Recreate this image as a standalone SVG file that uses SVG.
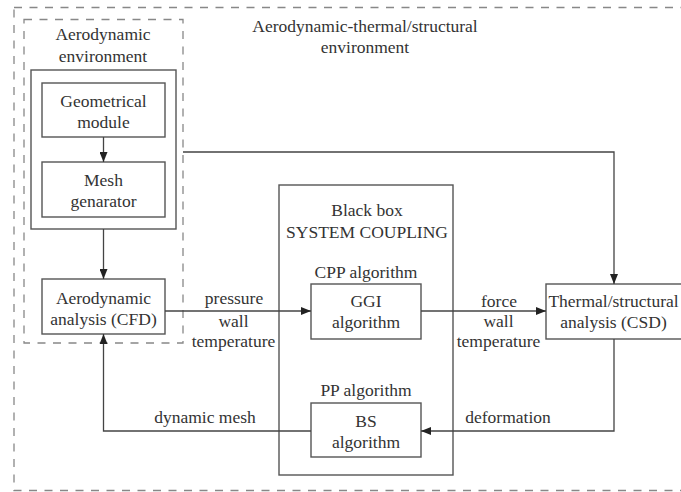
<svg xmlns="http://www.w3.org/2000/svg" width="681" height="492" viewBox="0 0 681 492">
<style>
text{font-family:"Liberation Serif","Times New Roman",serif;font-size:17.5px;fill:#333;text-anchor:middle}
.box{fill:none;stroke:#555;stroke-width:1.4}
.dash{fill:none;stroke:#888;stroke-width:1.3;stroke-dasharray:8 7.5}
.ln{fill:none;stroke:#444;stroke-width:1.3}
</style>
<defs>
<marker id="ar" viewBox="0 0 10 8" refX="10" refY="4" markerWidth="10" markerHeight="8" markerUnits="userSpaceOnUse" orient="auto">
<path d="M0,0 L10,4 L0,8 z" fill="#222"/>
</marker>
</defs>
<g id="outer-env">
<rect class="dash" x="14" y="7.5" width="700" height="483"/>
<text x="365" y="31.5">Aerodynamic-thermal/structural</text>
<text x="365" y="52.5">environment</text>
</g>
<g id="aero-env">
<rect class="dash" x="24" y="19.5" width="159" height="323.5"/>
<text x="103" y="40">Aerodynamic</text>
<text x="103" y="61.5">environment</text>
</g>
<g id="preproc">
<rect class="box" x="31" y="70" width="145" height="159"/>
</g>
<g id="geom">
<rect class="box" x="42" y="83" width="123" height="54"/>
<text x="103.5" y="107">Geometrical</text>
<text x="103.5" y="128">module</text>
</g>
<g id="mesh">
<rect class="box" x="42" y="162" width="123" height="55"/>
<text x="103.5" y="186">Mesh</text>
<text x="103.5" y="207">genarator</text>
</g>
<g id="cfd">
<rect class="box" x="42" y="279" width="123" height="55"/>
<text x="103.5" y="303.5">Aerodynamic</text>
<text x="103.5" y="325">analysis (CFD)</text>
</g>
<g id="blackbox">
<rect class="box" x="279" y="185" width="174" height="290"/>
<text x="367" y="215.5">Black box</text>
<text x="367" y="237.5">SYSTEM COUPLING</text>
<text x="366" y="278.3">CPP algorithm</text>
<text x="366" y="396">PP algorithm</text>
</g>
<g id="ggi">
<rect class="box" x="311" y="284" width="110" height="55"/>
<text x="366" y="307.3">GGI</text>
<text x="366" y="328">algorithm</text>
</g>
<g id="bs">
<rect class="box" x="311" y="403" width="110" height="54"/>
<text x="366" y="427.3">BS</text>
<text x="366" y="447.7">algorithm</text>
</g>
<g id="csd">
<rect class="box" x="546" y="284" width="140" height="55"/>
<text x="613.5" y="306.7">Thermal/structural</text>
<text x="613.5" y="328.3">analysis (CSD)</text>
</g>
<g id="connectors">
<line class="ln" x1="103.5" y1="137" x2="103.5" y2="162" marker-end="url(#ar)"/>
<line class="ln" x1="103.5" y1="229" x2="103.5" y2="279" marker-end="url(#ar)"/>
<polyline class="ln" points="183,152 614,152 614,284" marker-end="url(#ar)"/>
<line class="ln" x1="165" y1="311" x2="311" y2="311" marker-end="url(#ar)"/>
<line class="ln" x1="421" y1="311" x2="546" y2="311" marker-end="url(#ar)"/>
<polyline class="ln" points="614,339 614,431 421,431" marker-end="url(#ar)"/>
<polyline class="ln" points="311,431 103.5,431 103.5,334" marker-end="url(#ar)"/>
<text x="234" y="304">pressure</text>
<text x="233.5" y="327">wall</text>
<text x="233.5" y="347">temperature</text>
<text x="499" y="306.7">force</text>
<text x="498.5" y="327">wall</text>
<text x="498.5" y="347">temperature</text>
<text x="205" y="423">dynamic mesh</text>
<text x="508" y="423">deformation</text>
</g>
</svg>
